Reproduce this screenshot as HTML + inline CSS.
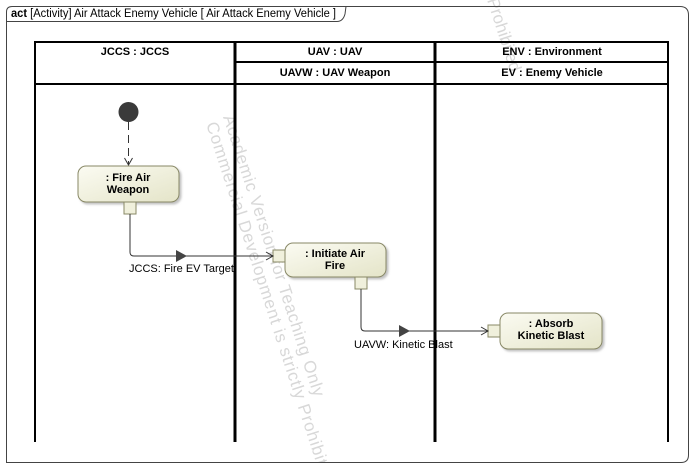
<!DOCTYPE html>
<html><head><meta charset="utf-8"><style>
html,body{margin:0;padding:0;background:#fff;width:693px;height:467px;overflow:hidden}
svg{display:block}
svg text{font-family:"Liberation Sans",Arial,sans-serif}
</style></head><body>
<svg width="693" height="467" viewBox="0 0 693 467" xmlns="http://www.w3.org/2000/svg">
<defs>
<linearGradient id="g" x1="0" y1="0" x2="1" y2="1">
<stop offset="0" stop-color="#fbfbf2"/><stop offset="1" stop-color="#e4e4c8"/>
</linearGradient>
<filter id="sh" x="-10%" y="-10%" width="130%" height="140%"><feDropShadow dx="2" dy="2" stdDeviation="1" flood-color="#999" flood-opacity="0.6"/></filter>
<clipPath id="c"><rect x="0" y="0" width="693" height="462"/></clipPath>
</defs>
<!-- watermark -->
<g fill="#d8d8d8" font-size="17" font-family="Liberation Sans,sans-serif" clip-path="url(#c)">
<text transform="translate(223,117) rotate(72)" textLength="295">Academic Version for Teaching Only</text>
<text transform="translate(206,124) rotate(72)" textLength="380">Commercial Development is strictly Prohibited</text>
<text transform="translate(487,0) rotate(72)">Prohibited</text>
</g>
<!-- frame -->
<path d="M6.5 462.5 V12 Q6.5 6.5 12 6.5 H680 Q688.5 6.5 688.5 15 V455 Q688.5 462.5 681 462.5 Z" fill="none" stroke="#444" stroke-width="1"/>
<path d="M6.5 21.5 H337 Q343 21.5 345 14 L346 6.5" fill="none" stroke="#444" stroke-width="1"/>
<text x="11" y="17" font-size="11.5" fill="#000" textLength="325" lengthAdjust="spacingAndGlyphs"><tspan font-weight="bold">act</tspan> [Activity] Air Attack Enemy Vehicle [ Air Attack Enemy Vehicle ]</text>
<!-- swimlanes -->
<g stroke="#000" fill="none">
<rect x="35" y="42" width="633" height="42" stroke-width="2"/>
<line x1="235" y1="62" x2="668" y2="62" stroke-width="2"/>
<line x1="35" y1="42" x2="35" y2="442" stroke-width="2"/>
<line x1="235" y1="42" x2="235" y2="442" stroke-width="3"/>
<line x1="435" y1="42" x2="435" y2="442" stroke-width="3"/>
<line x1="668" y1="42" x2="668" y2="442" stroke-width="2"/>
</g>
<g font-size="11" font-weight="bold" text-anchor="middle">
<text x="135" y="55">JCCS : JCCS</text>
<text x="335" y="55">UAV : UAV</text>
<text x="335" y="76">UAVW : UAV Weapon</text>
<text x="552" y="55">ENV : Environment</text>
<text x="552" y="76">EV : Enemy Vehicle</text>
</g>
<!-- initial -->
<circle cx="128.5" cy="112" r="10" fill="#3a3a3a"/>
<line x1="128.5" y1="122" x2="128.5" y2="165" stroke="#333" stroke-dasharray="8,5"/>
<path d="M124.5 158 L128.5 165 L132.5 158" fill="none" stroke="#333"/>
<!-- nodes -->
<g stroke="#888866" fill="url(#g)" filter="url(#sh)">
<rect x="78" y="166" width="101" height="36" rx="8"/>
<rect x="285" y="243" width="101" height="34" rx="8"/>
<rect x="500" y="313" width="102" height="36" rx="8"/>
</g>
<g stroke="#888866" fill="#f0f0dc">
<rect x="124" y="202" width="12" height="12"/>
<rect x="273" y="250" width="12" height="12"/>
<rect x="355" y="277" width="12" height="12"/>
<rect x="488" y="325" width="12" height="12"/>
</g>
<g font-size="11" font-weight="bold" text-anchor="middle">
<text x="128" y="181">: Fire Air</text><text x="128" y="193">Weapon</text>
<text x="335" y="257">: Initiate Air</text><text x="335" y="269">Fire</text>
<text x="551" y="327">: Absorb</text><text x="551" y="339">Kinetic Blast</text>
</g>
<!-- edges -->
<g stroke="#333" fill="none">
<path d="M130 214 V252 Q130 256 134 256 H273"/>
<path d="M266 252 L273 256 L266 260"/>
<path d="M361 289 V327 Q361 331 365 331 H488"/>
<path d="M481 327 L488 331 L481 335"/>
</g>
<path d="M176 250 L187 256 L176 262 Z" fill="#444"/>
<path d="M399 325 L410 331 L399 337 Z" fill="#444"/>
<g font-size="11">
<text x="129" y="272">JCCS: Fire EV Target</text>
<text x="354" y="348">UAVW: Kinetic Blast</text>
</g>
</svg>
</body></html>
